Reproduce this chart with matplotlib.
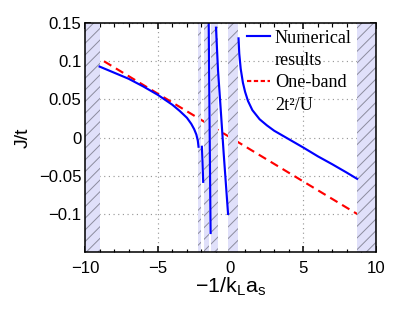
import numpy as np
import matplotlib
matplotlib.use("Agg")
import matplotlib.pyplot as plt
from matplotlib.lines import Line2D
from matplotlib.ticker import MultipleLocator

# forbidden (hatched) regions of -1/(k_L a_s)
bands = [(-10.0, -9.0), (-2.23, -2.01), (-1.84, -1.50), (-1.32, -0.86),
         (-0.17, 0.52), (8.7, 10.0)]

# numerical results, one branch per allowed window
main_x = [-9.0, -8.0, -7.0, -6.0, -5.0, -4.0, -3.5, -3.0, -2.7, -2.5, -2.35, -2.25, -2.2]
main_j = [0.093, 0.085, 0.077, 0.067, 0.056, 0.043, 0.035, 0.026, 0.018, 0.011, 0.004, -0.004, -0.012]

spike_x = [-1.97, -1.93, -1.88]
spike_j = [-0.012, -0.03, -0.058]

br2_x = [-1.50, -1.47, -1.43, -1.40, -1.37]
br2_j = [0.15, 0.08, 0.0, -0.07, -0.125]

br3_x = [-1.0, -0.86, -0.70, -0.47, -0.17]
br3_j = [0.144, 0.088, 0.044, -0.021, -0.1]

right_x = [0.55, 0.6, 0.7, 0.85, 1.0, 1.2, 1.5, 2.0, 2.5, 3.0, 4.0, 5.0, 6.0, 7.0, 8.0, 8.7]
right_j = [0.13, 0.11, 0.09, 0.072, 0.06, 0.048, 0.036, 0.024, 0.016, 0.009, -0.002,
           -0.013, -0.0245, -0.035, -0.046, -0.054]

# one-band estimate 2t^2/U
oneband_x = [-8.7, 8.7]
oneband_j = [0.1, -0.1]

xticks = [-10, -5, 0, 5, 10]
yticks = [-0.1, -0.05, 0, 0.05, 0.1, 0.15]
ytick_labels = ["\u22120.1", "\u22120.05", "0", "0.05", "0.1", "0.15"]
xtick_labels = ["\u221210", "\u22125", "0", "5", "10"]

plt.rcParams["font.family"] = ["Liberation Sans", "DejaVu Sans"]
plt.rcParams["hatch.color"] = (0.55, 0.55, 0.62)
plt.rcParams["hatch.linewidth"] = 0.5

DPI = 140
fig = plt.figure(figsize=(415 / DPI, 312 / DPI), dpi=DPI)
ax = fig.add_axes([0.205, 0.192, 0.701, 0.734])

for lo, hi in bands:
    ax.axvspan(lo, hi, facecolor=(0.88, 0.88, 0.98), hatch="////", lw=0, zorder=1.5)

ax.plot(oneband_x, oneband_j, color="red", lw=1.1, ls=(0, (4, 2.5)), zorder=1)
for xs, js in [(main_x, main_j), (spike_x, spike_j), (br2_x, br2_j),
               (br3_x, br3_j), (right_x, right_j)]:
    ax.plot(xs, js, color="blue", lw=1.1, zorder=2)

ax.set_xlim(-10, 10)
ax.set_ylim(-0.15, 0.15)
ax.set_xticks(xticks)
ax.set_xticklabels(xtick_labels)
ax.set_yticks(yticks)
ax.set_yticklabels(ytick_labels)
ax.xaxis.set_minor_locator(MultipleLocator(1))
ax.tick_params(which="both", direction="in", top=True, right=True, labelsize=8.6)
ax.tick_params(axis="x", which="major", length=3, pad=4.5)
ax.tick_params(axis="y", which="major", length=3, pad=1.8)
ax.tick_params(which="minor", length=1.8)
ax.set_axisbelow(True)
ax.grid(True, which="major", ls=(0, (1, 3)), color=(0.6, 0.6, 0.6), lw=0.6)
for s in ax.spines.values():
    s.set_linewidth(0.8)

ax.set_xlabel("\u22121/k$_\\mathregular{L}$a$_\\mathregular{s}$", fontsize=11, labelpad=0)
ax.set_ylabel("J/t", fontsize=10, labelpad=4)

handles = [Line2D([], [], color="blue", lw=1.1),
           Line2D([], [], color="none"),
           Line2D([], [], color="red", lw=1.1, ls=(0, (2, 1.2))),
           Line2D([], [], color="none")]
labels = ["Numerical", "results", "One-band", "2t\u00b2/U"]
leg = ax.legend(handles, labels, loc="upper left", frameon=False,
                prop={"family": ["Liberation Serif"], "size": 9.4},
                handlelength=1.3, handletextpad=0.25, labelspacing=0.3,
                borderpad=0, borderaxespad=0, bbox_to_anchor=(0.555, 0.972))

fig.savefig("out.png", dpi=DPI)
